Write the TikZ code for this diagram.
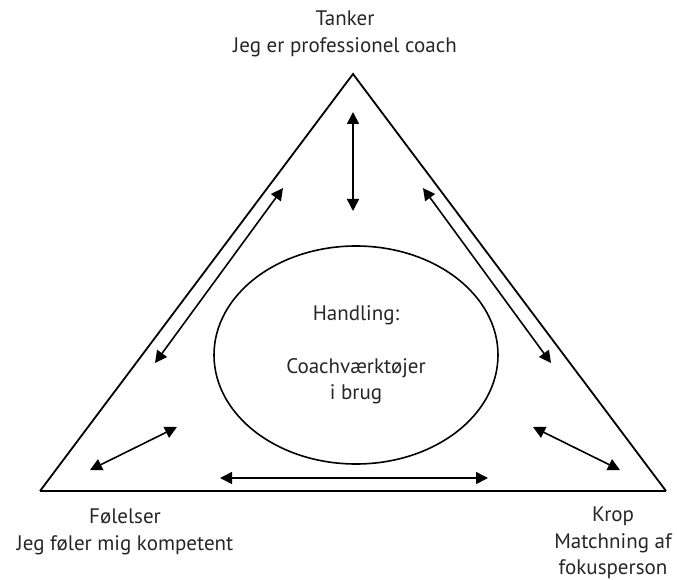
\documentclass[tikz,border=0pt]{standalone}
\usepackage{fontspec}
\setmainfont{PT Sans}
\usetikzlibrary{arrows.meta,shapes.geometric}

\tikzset{
  frame/.style={line width=1.8pt, line join=miter},
  baseedge/.style={line width=2.6pt},
  twoway/.style={line width=1.6pt, {Triangle[length=12pt,width=12pt]}-{Triangle[length=12pt,width=12pt]}},
  label/.style={font=\fontsize{21}{26.5}\selectfont, align=center, text=black!85, inner sep=0pt},
  core/.style={ellipse, draw, line width=1.6pt, minimum width=284pt, minimum height=218pt, inner sep=0pt,
               font=\fontsize{21}{26.5}\selectfont, align=center, text=black!85}
}

\begin{document}
\begin{tikzpicture}[x=1pt,y=-1pt]
  \useasboundingbox (0,0) rectangle (677,580);

  % corners of the triangle
  \coordinate (top) at (353,74);
  \coordinate (left) at (40,491);
  \coordinate (right) at (666,491);
  \draw[frame] (left) -- (top) -- (right);
  \draw[baseedge] (left) -- (right);

  % central ellipse
  \node[core] (handling) at (356,355) {Handling:\\[26.5pt]Coachværktøjer\\i brug};

  % corner labels
  \node[label] (tanker) at (345,34) {Tanker\\Jeg er professionel coach};
  \node[label] (foelelser) at (125,532) {Følelser\\Jeg føler mig kompetent};
  \node[label] (krop) at (613,543) {Krop\\Matchning af\\fokusperson};

  % arrow end points
  \coordinate (v1) at (353,112);  \coordinate (v2) at (353,211);
  \coordinate (l1) at (283,188);  \coordinate (l2) at (155,363);
  \coordinate (r1) at (423,188);  \coordinate (r2) at (551,363);
  \coordinate (ll1) at (90,470);  \coordinate (ll2) at (177,427);
  \coordinate (lr1) at (533,427); \coordinate (lr2) at (620,470);
  \coordinate (b1) at (220,478);  \coordinate (b2) at (488,478);

  \draw[twoway] (v1) -- (v2);
  \draw[twoway] (l1) -- (l2);
  \draw[twoway] (r1) -- (r2);
  \draw[twoway] (ll1) -- (ll2);
  \draw[twoway] (lr1) -- (lr2);
  \draw[twoway] (b1) -- (b2);
\end{tikzpicture}
\end{document}
